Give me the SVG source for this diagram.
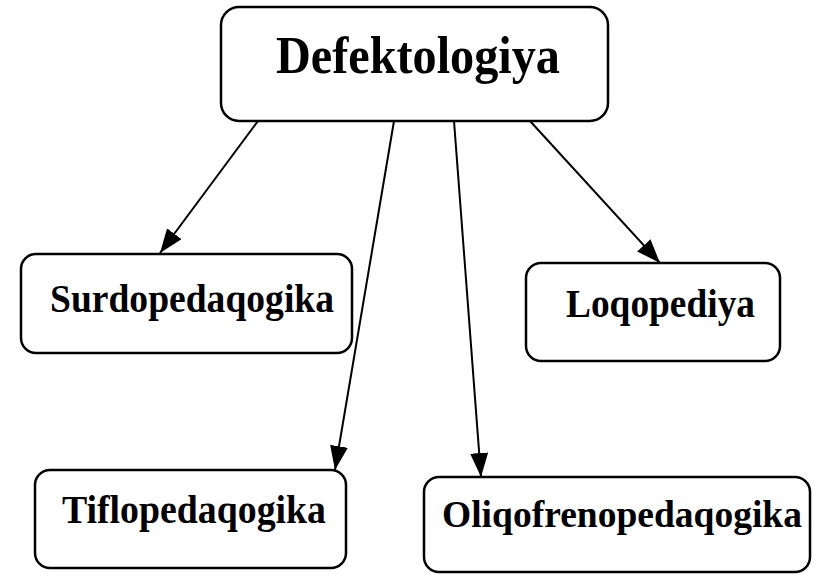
<svg xmlns="http://www.w3.org/2000/svg" width="816" height="576" viewBox="0 0 816 576">
<style>
.box{fill:#fff;stroke:#000;stroke-width:2.5}
.lbl{font-family:"Liberation Serif","Times New Roman",serif;font-weight:bold;fill:#000}
.conn{stroke:#000;stroke-width:2;fill:none}
</style>
<defs>
<marker id="ah" markerUnits="userSpaceOnUse" markerWidth="26" markerHeight="20" refX="24" refY="9" orient="auto">
<path d="M0,0 L24,9 L0,18 z" fill="#000"/>
</marker>
</defs>
<rect width="816" height="576" fill="#fff"/>
<g id="connectors">
<line class="conn" x1="258" y1="121" x2="160" y2="253" marker-end="url(#ah)"/>
<line class="conn" x1="394" y1="121" x2="335" y2="470" marker-end="url(#ah)"/>
<line class="conn" x1="454" y1="121" x2="481" y2="477" marker-end="url(#ah)"/>
<line class="conn" x1="530" y1="121" x2="660" y2="263" marker-end="url(#ah)"/>
</g>
<g id="defektologiya">
<rect class="box" x="221" y="7" width="387" height="114" rx="18"/>
<text class="lbl" x="418" y="73" font-size="52" text-anchor="middle" textLength="284" lengthAdjust="spacingAndGlyphs">Defektologiya</text>
</g>
<g id="surdopedaqogika">
<rect class="box" x="21" y="254" width="331" height="99" rx="15"/>
<text class="lbl" x="50" y="312" font-size="41" textLength="284" lengthAdjust="spacingAndGlyphs">Surdopedaqogika</text>
</g>
<g id="loqopediya">
<rect class="box" x="526" y="263" width="254" height="98" rx="15"/>
<text class="lbl" x="566" y="317" font-size="41" textLength="189" lengthAdjust="spacingAndGlyphs">Loqopediya</text>
</g>
<g id="tiflopedaqogika">
<rect class="box" x="35" y="470" width="311" height="98" rx="15"/>
<text class="lbl" x="62" y="523" font-size="41" textLength="264" lengthAdjust="spacingAndGlyphs">Tiflopedaqogika</text>
</g>
<g id="oliqofrenopedaqogika">
<rect class="box" x="424" y="477" width="386" height="95" rx="15"/>
<text class="lbl" x="442" y="527" font-size="38" textLength="360" lengthAdjust="spacingAndGlyphs">Oliqofrenopedaqogika</text>
</g>
</svg>
